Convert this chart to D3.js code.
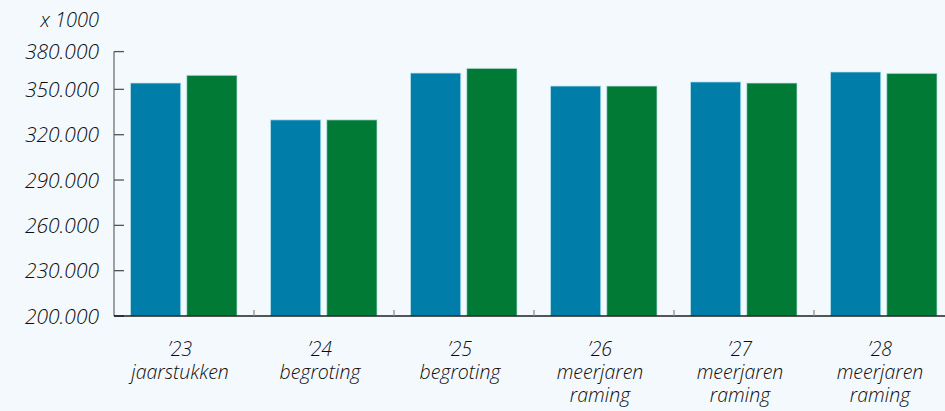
<!DOCTYPE html>
<html>
<head>
<meta charset="utf-8">
<script src="https://cdn.jsdelivr.net/npm/d3@7/dist/d3.min.js"></script>
<style>
  html, body { margin:0; padding:0; background:#f3f9fd; }
  svg { display:block; }
  text { font-family: "Open Sans", Lato, sans-serif; font-style: italic; font-weight: 300; fill:#0d0d0d; }
</style>
</head>
<body>
<svg id="chart" width="945" height="411"></svg>
<script>
// Values in thousands of euros (x 1000).
var YEARS   = ["\u201923", "\u201924", "\u201925", "\u201926", "\u201927", "\u201928"];
var KINDS   = [["jaarstukken"], ["begroting"], ["begroting"],
               ["meerjaren", "raming"], ["meerjaren", "raming"], ["meerjaren", "raming"]];
var SERIES  = ['serie1', 'serie2'];
var SERIE1  = [354200, 329800, 360800, 352200, 354900, 361500];
var SERIE2  = [359300, 329800, 363900, 352200, 354200, 360600];
var TICKS   = [200000, 230000, 260000, 290000, 320000, 350000, 375000];
var TICK_LABELS = ['200.000', '230.000', '260.000', '290.000', '320.000', '350.000', '380.000'];
var COLORS  = { serie1:'#007eaa', serie2:'#007a34' };

var svg = d3.select('#chart');
var X0 = 114, BASE = 316;

var x = d3.scaleBand().domain(YEARS).range([X0, X0 + 140*YEARS.length]);
var xi = d3.scaleBand().domain(SERIES).range([16.5, 123]).paddingInner(0.107);
var y = d3.scaleLinear().domain([200000, 375000]).range([BASE, 51.6]);

// bars
var rows = YEARS.map(function(yr, i){
    return { yr:yr, vals:[{k:'serie1', v:SERIE1[i]}, {k:'serie2', v:SERIE2[i]}] };
});
svg.append('g').selectAll('g').data(rows).join('g')
    .attr('transform', function(d){ return 'translate(' + x(d.yr) + ',0)'; })
  .selectAll('rect').data(function(d){ return d.vals; }).join('rect')
    .attr('x', function(d){ return xi(d.k); })
    .attr('width', xi.bandwidth())
    .attr('y', function(d){ return y(d.v); })
    .attr('height', function(d){ return BASE - y(d.v); })
    .attr('fill', function(d){ return COLORS[d.k]; })
    .attr('stroke', 'rgba(190,230,240,0.7)').attr('stroke-width', 1);

// y axis: grey spine, ticks pointing into the plot
var gy = svg.append('g');
gy.append('line').attr('x1', X0).attr('x2', X0).attr('y1', y(375000)).attr('y2', BASE)
    .attr('stroke', '#8a8a8a').attr('stroke-width', 1.6);
gy.selectAll('line.t').data(TICKS).join('line').attr('class', 't')
    .attr('x1', X0).attr('x2', X0 + 10)
    .attr('y1', function(d){ return y(d); }).attr('y2', function(d){ return y(d); })
    .attr('stroke', function(d){ return d === 200000 ? '#1e1e1e' : '#555'; }).attr('stroke-width', 1.3);
gy.selectAll('text').data(TICKS).join('text')
    .attr('x', 99).attr('y', function(d){ return y(d); }).attr('dy', '0.36em')
    .attr('text-anchor', 'end').attr('font-size', 21)
    .text(function(d, i){ return TICK_LABELS[i]; });
svg.append('text').attr('x', 99).attr('y', 27).attr('text-anchor', 'end')
    .attr('font-size', 20).text('x 1000');

// x axis
svg.append('line').attr('x1', X0).attr('x2', 945).attr('y1', BASE).attr('y2', BASE)
    .attr('stroke', '#1e1e1e').attr('stroke-width', 1.6);
svg.append('g').selectAll('line').data(YEARS.slice(1)).join('line')
    .attr('x1', function(d){ return x(d); }).attr('x2', function(d){ return x(d); })
    .attr('y1', BASE - 6).attr('y2', BASE)
    .attr('stroke', '#888').attr('stroke-width', 1.2);

// category labels, one text per line
var gl = svg.append('g').selectAll('g').data(YEARS).join('g')
    .attr('transform', function(d){ return 'translate(' + (x(d) + x.bandwidth()/2 - 4) + ',0)'; });
gl.each(function(d, i){
    var g = d3.select(this);
    [d].concat(KINDS[i]).forEach(function(s, j){
        g.append('text').attr('text-anchor', 'middle').attr('font-size', 19.5)
            .attr('y', 355.5 + j*23).text(s);
    });
});
</script>
</body>
</html>
